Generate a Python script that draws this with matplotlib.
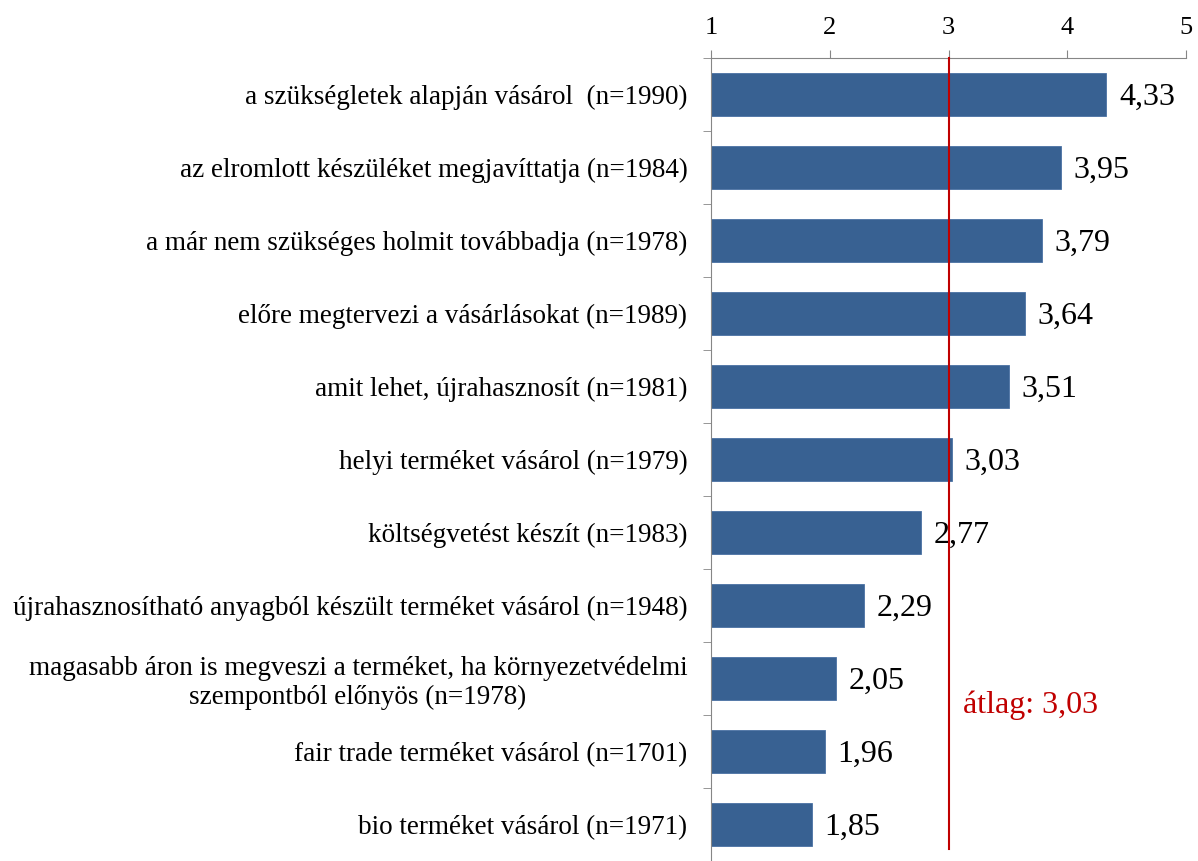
import numpy as np
import matplotlib.pyplot as plt

plt.rcParams['font.family'] = ['Liberation Serif', 'DejaVu Serif']

labels = [
    'a szükségletek alapján vásárol  (n=1990)',
    'az elromlott készüléket megjavíttatja (n=1984)',
    'a már nem szükséges holmit továbbadja (n=1978)',
    'előre megtervezi a vásárlásokat (n=1989)',
    'amit lehet, újrahasznosít (n=1981)',
    'helyi terméket vásárol (n=1979)',
    'költségvetést készít (n=1983)',
    'újrahasznosítható anyagból készült terméket vásárol (n=1948)',
    'magasabb áron is megveszi a terméket, ha környezetvédelmi\nszempontból előnyös (n=1978)',
    'fair trade terméket vásárol (n=1701)',
    'bio terméket vásárol (n=1971)',
]
values = [4.33, 3.95, 3.79, 3.64, 3.51, 3.03, 2.77, 2.29, 2.05, 1.96, 1.85]
mean_label = 'átlag: 3,03'
mean_line_x = 3.0   # where the red line sits in the picture
xticks = [1, 2, 3, 4, 5]

fig = plt.figure(figsize=(11.98, 8.61), dpi=100)
ax = fig.add_axes([0.5935, 0.0, 0.3965, 0.9326])

y = np.arange(len(values))
base = 1
ax.barh(y, [v - base for v in values], left=base, height=0.6,
        color='#386192', edgecolor='#4a72a4', linewidth=0.6, zorder=2)

for yi, v in zip(y, values):
    ax.annotate(f'{v:.2f}'.replace('.', ','), (v, yi), xytext=(9, -2),
                textcoords='offset points', ha='left', va='center', fontsize=23)

ax.plot([mean_line_x, mean_line_x], [-0.5, 10.33], color='#c00000', lw=1.5,
        zorder=3, clip_on=False)
ax.text(mean_line_x + 0.12, 8.37, mean_label, color='#c00000', fontsize=23,
        ha='left', va='center')

ax.set_xlim(1, 5)
ax.set_ylim(10.43, -0.5)
ax.xaxis.tick_top()
ax.set_xticks(xticks)
ax.set_xticklabels([str(t) for t in xticks], fontsize=19)
ax.tick_params(axis='x', direction='out', length=6, color='#868686', pad=8)

ax.set_yticks(y)
ax.set_yticklabels(labels, fontsize=19.5, multialignment='center')
ax.set_yticks(np.arange(-0.5, 11, 1), minor=True)
ax.tick_params(axis='y', which='major', length=0, pad=17)
ax.tick_params(axis='y', which='minor', direction='out', length=6, color='#868686')

for s in ['right', 'bottom']:
    ax.spines[s].set_visible(False)
for s in ['top', 'left']:
    ax.spines[s].set_color('#868686')

fig.savefig('out.png', dpi=100)
